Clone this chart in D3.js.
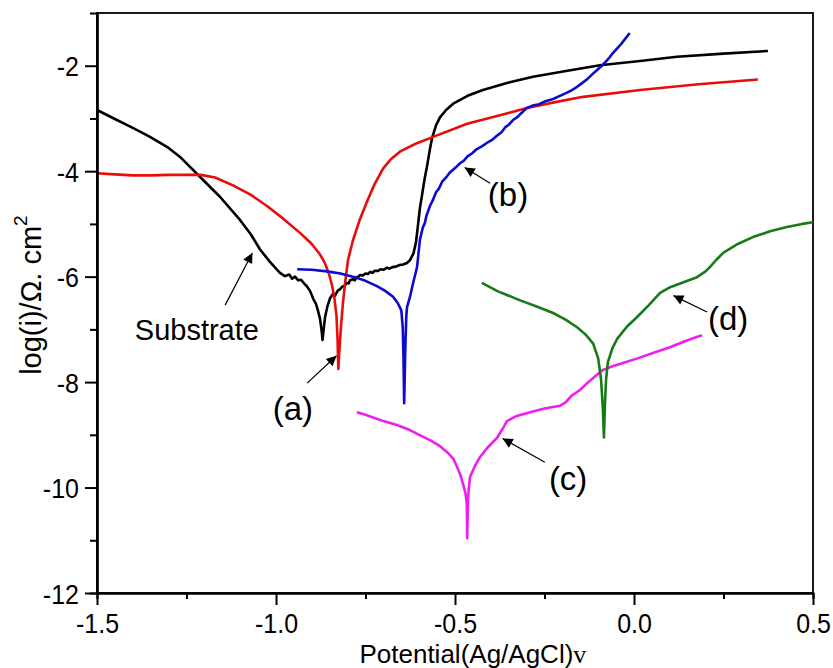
<!DOCTYPE html>
<html>
<head>
<meta charset="utf-8">
<script src="https://cdn.jsdelivr.net/npm/d3@7"></script>
<style>
	body { margin: 0; background: #fff; }
	svg { display: block; font-family: Arial, "Liberation Sans", sans-serif; }
	.axis path, .axis line { stroke: #000; }
	.axis text { font-size: 25px; fill: #000; }
</style>
</head>
<body>
<div id="chart"></div>
<script>
// polarization curves, [potential V, log(i)]
var substrate = [
	[-1.500, -2.84], [-1.450, -3.01], [-1.400, -3.18], [-1.352, -3.35], [-1.300, -3.56],
	[-1.268, -3.73], [-1.212, -4.11], [-1.156, -4.49], [-1.100, -4.93], [-1.070, -5.20],
	[-1.045, -5.48], [-1.017, -5.72], [-0.989, -5.93], [-0.975, -5.99], [-0.963, -5.96],
	[-0.955, -6.04], [-0.947, -6.00], [-0.938, -6.07], [-0.930, -6.06], [-0.920, -6.14],
	[-0.913, -6.19], [-0.905, -6.27], [-0.896, -6.42], [-0.888, -6.52], [-0.883, -6.64],
	[-0.877, -6.80], [-0.873, -7.00], [-0.870, -7.20], [-0.866, -6.95], [-0.863, -6.77],
	[-0.857, -6.58], [-0.849, -6.41], [-0.841, -6.33], [-0.835, -6.36], [-0.827, -6.26],
	[-0.821, -6.24], [-0.815, -6.19], [-0.808, -6.17], [-0.802, -6.12], [-0.797, -6.13],
	[-0.793, -6.07], [-0.785, -6.05], [-0.780, -6.07], [-0.775, -6.01], [-0.770, -6.00],
	[-0.765, -5.97], [-0.758, -5.98], [-0.750, -5.94], [-0.743, -5.95], [-0.737, -5.91],
	[-0.730, -5.93], [-0.725, -5.89], [-0.715, -5.89], [-0.708, -5.86], [-0.700, -5.87],
	[-0.690, -5.83], [-0.683, -5.85], [-0.675, -5.82], [-0.665, -5.81], [-0.655, -5.78],
	[-0.645, -5.77], [-0.634, -5.74], [-0.626, -5.69], [-0.616, -5.56], [-0.609, -5.35],
	[-0.603, -5.00], [-0.598, -4.70], [-0.592, -4.45], [-0.585, -4.15], [-0.578, -3.90],
	[-0.570, -3.58], [-0.564, -3.37], [-0.553, -3.13], [-0.542, -2.98], [-0.525, -2.84],
	[-0.505, -2.72], [-0.465, -2.57], [-0.422, -2.46], [-0.350, -2.32], [-0.282, -2.21],
	[-0.190, -2.10], [-0.095, -1.99], [0.017, -1.91], [0.120, -1.83], [0.250, -1.77],
	[0.374, -1.72]
];
var coatA = [
	[-1.500, -4.04], [-1.450, -4.06], [-1.400, -4.08], [-1.350, -4.08], [-1.300, -4.07],
	[-1.250, -4.07], [-1.210, -4.07], [-1.170, -4.12], [-1.120, -4.27], [-1.070, -4.45],
	[-1.025, -4.66], [-0.980, -4.90], [-0.933, -5.17], [-0.900, -5.38], [-0.877, -5.58],
	[-0.863, -5.75], [-0.852, -5.95], [-0.844, -6.15], [-0.837, -6.40], [-0.831, -6.75],
	[-0.828, -7.20], [-0.826, -7.75], [-0.822, -7.30], [-0.818, -6.90], [-0.813, -6.50],
	[-0.807, -6.12], [-0.799, -5.69], [-0.785, -5.31], [-0.766, -4.92], [-0.746, -4.58],
	[-0.725, -4.25], [-0.701, -3.95], [-0.680, -3.78], [-0.654, -3.63], [-0.610, -3.48],
	[-0.561, -3.35], [-0.466, -3.10], [-0.380, -2.95], [-0.299, -2.80], [-0.220, -2.69],
	[-0.142, -2.59], [0.017, -2.46], [0.180, -2.35], [0.346, -2.26]
];
var coatB = [
	[-0.941, -5.86], [-0.900, -5.87], [-0.858, -5.90], [-0.820, -5.94], [-0.785, -6.00],
	[-0.750, -6.08], [-0.718, -6.18], [-0.695, -6.27], [-0.673, -6.38], [-0.660, -6.50],
	[-0.650, -6.64], [-0.646, -6.96], [-0.644, -7.50], [-0.642, -8.40], [-0.639, -7.40],
	[-0.636, -6.75], [-0.634, -6.58], [-0.626, -6.39], [-0.617, -6.12], [-0.606, -5.82],
	[-0.598, -5.30], [-0.590, -5.07], [-0.584, -4.98], [-0.580, -4.85], [-0.570, -4.66],
	[-0.562, -4.55], [-0.553, -4.40], [-0.545, -4.33], [-0.536, -4.20], [-0.525, -4.12],
	[-0.515, -4.03], [-0.495, -3.91], [-0.486, -3.85], [-0.475, -3.80], [-0.465, -3.72],
	[-0.452, -3.66], [-0.439, -3.58], [-0.425, -3.53], [-0.410, -3.46], [-0.395, -3.40],
	[-0.383, -3.33], [-0.370, -3.26], [-0.360, -3.17], [-0.350, -3.12], [-0.338, -3.03],
	[-0.325, -2.97], [-0.315, -2.90], [-0.299, -2.80], [-0.280, -2.75], [-0.265, -2.73],
	[-0.250, -2.68], [-0.226, -2.63], [-0.210, -2.58], [-0.190, -2.52], [-0.175, -2.47],
	[-0.159, -2.40], [-0.145, -2.33], [-0.130, -2.25], [-0.116, -2.16], [-0.103, -2.08],
	[-0.090, -2.00], [-0.080, -1.93], [-0.068, -1.84], [-0.059, -1.76], [-0.035, -1.58],
	[-0.012, -1.38]
];
var coatC = [
	[-0.774, -8.57], [-0.750, -8.62], [-0.729, -8.67], [-0.700, -8.74], [-0.660, -8.82],
	[-0.626, -8.91], [-0.600, -9.00], [-0.570, -9.10], [-0.545, -9.20], [-0.522, -9.33],
	[-0.505, -9.45], [-0.494, -9.61], [-0.485, -9.76], [-0.478, -9.92], [-0.471, -10.10],
	[-0.467, -10.30], [-0.466, -10.96], [-0.464, -10.30], [-0.462, -10.05], [-0.458, -9.80],
	[-0.445, -9.60], [-0.430, -9.42], [-0.410, -9.25], [-0.383, -9.06], [-0.368, -8.90],
	[-0.355, -8.74], [-0.330, -8.65], [-0.290, -8.57], [-0.250, -8.50], [-0.207, -8.45],
	[-0.190, -8.38], [-0.175, -8.26], [-0.151, -8.15], [-0.131, -8.02], [-0.110, -7.90],
	[-0.087, -7.77], [-0.060, -7.70], [-0.031, -7.64], [0.010, -7.55], [0.053, -7.45],
	[0.100, -7.34], [0.137, -7.24], [0.165, -7.17], [0.190, -7.11]
];
var coatD = [
	[-0.425, -6.12], [-0.380, -6.28], [-0.318, -6.45], [-0.270, -6.57], [-0.226, -6.69],
	[-0.190, -6.82], [-0.159, -6.96], [-0.135, -7.10], [-0.114, -7.27], [-0.100, -7.55],
	[-0.092, -7.95], [-0.087, -8.50], [-0.084, -9.05], [-0.081, -8.40], [-0.078, -7.95],
	[-0.073, -7.62], [-0.060, -7.35], [-0.047, -7.18], [-0.020, -6.95], [0.008, -6.77],
	[0.040, -6.55], [0.073, -6.31], [0.101, -6.20], [0.140, -6.10], [0.176, -6.01],
	[0.200, -5.90], [0.212, -5.82], [0.230, -5.68], [0.249, -5.55], [0.290, -5.38],
	[0.332, -5.25], [0.380, -5.14], [0.427, -5.06], [0.470, -5.00], [0.500, -4.97]
];

var seriesNames = ["Substrate", "(a)", "(b)", "(c)", "(d)"];
var seriesData = [substrate, coatA, coatB, coatC, coatD];
var seriesColors = ["#000000", "#e80c0c", "#0b0bd0", "#ee1fee", "#167a16"];

var xTicks = [-1.5, -1.0, -0.5, 0.0, 0.5];
var xMinor = [-1.25, -0.75, -0.25, 0.25];
var yTicks = [-12, -10, -8, -6, -4, -2];
var yMinor = [-11, -9, -7, -5, -3];

// label text position and arrow (tail -> head), in data units
var labelPos = [[-1.221, -7.20], [-0.953, -8.72], [-0.352, -4.66], [-0.184, -10.05], [0.263, -7.02]];
var arrowFrom = [[-1.142, -6.54], [-0.913, -8.02], [-0.402, -4.23], [-0.249, -9.52], [0.204, -6.67]];
var arrowTo = [[-1.066, -5.55], [-0.831, -7.50], [-0.473, -3.93], [-0.367, -9.07], [0.110, -6.36]];

var padding = { top: 13, right: 20, bottom: 75, left: 97 },
	width = 833 - padding.left - padding.right,
	height = 668 - padding.top - padding.bottom,
	textStretch = 1.12;

var xScale = d3.scaleLinear().domain([-1.5, 0.5]).range([0, width]),
	yScale = d3.scaleLinear().domain([-12, -1]).range([height, 0]);

var svg = d3.select("#chart").append("svg")
	.attr("width", 833)
	.attr("height", 668)
	.append("g")
	.attr("transform", "translate(" + padding.left + "," + padding.top + ")");

// top and right frame
svg.append("rect")
	.attr("width", width)
	.attr("height", height)
	.attr("fill", "none")
	.attr("stroke", "#000")
	.attr("stroke-width", 1.8);

// curves
var line = d3.line()
	.x(function(d) { return xScale(d[0]); })
	.y(function(d) { return yScale(d[1]); });

svg.append("g")
	.attr("class", "curves")
	.selectAll("path")
	.data(seriesData)
	.enter().append("path")
	.attr("d", line)
	.attr("fill", "none")
	.attr("stroke", function(d, i) { return seriesColors[i]; })
	.attr("stroke-width", 2.6)
	.attr("stroke-linejoin", "round");

// axes
var xAxis = d3.axisBottom(xScale).tickValues(xTicks).tickSize(12).tickSizeOuter(0)
		.tickFormat(d3.format(".1f")),
	xAxisMinor = d3.axisBottom(xScale).tickValues(xMinor).tickSize(6).tickFormat(""),
	yAxis = d3.axisLeft(yScale).tickValues(yTicks).tickSize(12).tickSizeOuter(0).tickPadding(6)
		.tickFormat(d3.format("d")),
	yAxisMinor = d3.axisLeft(yScale).tickValues(yMinor).tickSize(7).tickFormat("");

svg.append("g")
	.attr("class", "axis axis-x")
	.attr("transform", "translate(0," + height + ")")
	.call(xAxis);
svg.append("g")
	.attr("class", "axis axis-x-minor")
	.attr("transform", "translate(0," + height + ")")
	.call(xAxisMinor);
svg.append("g")
	.attr("class", "axis axis-y")
	.call(yAxis);
svg.append("g")
	.attr("class", "axis axis-y-minor")
	.call(yAxisMinor);

svg.selectAll(".axis path").attr("stroke-width", 2.2);
svg.selectAll(".axis line").attr("stroke-width", 2);
// tick labels are a bit taller than wide in the original
svg.selectAll(".axis-x text")
	.attr("y", 40 / textStretch)
	.attr("dy", 0)
	.attr("transform", "scale(1," + textStretch + ")");
svg.selectAll(".axis-y text")
	.attr("dy", "0.36em")
	.attr("transform", "scale(1," + textStretch + ")");
// minus sign as plain hyphen like the original
svg.selectAll(".axis text").text(function() { return this.textContent.replace("\u2212", "-"); });

// axis titles
var xTitle = svg.append("text")
	.attr("x", xScale(-0.45))
	.attr("y", height + 70)
	.attr("text-anchor", "middle")
	.attr("font-size", 26)
	.text("Potential(Ag/AgCl)");
xTitle.append("tspan")
	.attr("font-family", "'Liberation Serif', 'Times New Roman', serif")
	.text("v");

var yTitle = svg.append("text")
	.attr("transform", "translate(" + (41 - padding.left) + "," + yScale(-6.35) + ") rotate(-90)")
	.attr("text-anchor", "middle")
	.attr("font-size", 29)
	.text("log(i)/\u03a9. cm");
yTitle.append("tspan")
	.attr("font-size", 19)
	.attr("dy", "-0.75em")
	.text("2");

// annotations
svg.append("defs").append("marker")
	.attr("id", "arrowHead")
	.attr("viewBox", "0 0 10 10")
	.attr("refX", 10)
	.attr("refY", 5)
	.attr("markerUnits", "userSpaceOnUse")
	.attr("markerWidth", 14)
	.attr("markerHeight", 10)
	.attr("orient", "auto")
	.append("path")
	.attr("d", "M0,0L10,5L0,10Z")
	.attr("fill", "#000");

var notes = svg.append("g").attr("class", "notes");
notes.selectAll("line")
	.data(arrowFrom)
	.enter().append("line")
	.attr("x1", function(d) { return xScale(d[0]); })
	.attr("y1", function(d) { return yScale(d[1]); })
	.attr("x2", function(d, i) { return xScale(arrowTo[i][0]); })
	.attr("y2", function(d, i) { return yScale(arrowTo[i][1]); })
	.attr("stroke", "#000")
	.attr("stroke-width", 1.2)
	.attr("marker-end", "url(#arrowHead)");

notes.selectAll("text")
	.data(seriesNames)
	.enter().append("text")
	.attr("x", function(d, i) { return xScale(labelPos[i][0]); })
	.attr("y", function(d, i) { return yScale(labelPos[i][1]); })
	.attr("text-anchor", "middle")
	.attr("font-size", function(d, i) { return i == 0 ? 29 : 33; })
	.text(function(d) { return d; });
</script>
</body>
</html>
